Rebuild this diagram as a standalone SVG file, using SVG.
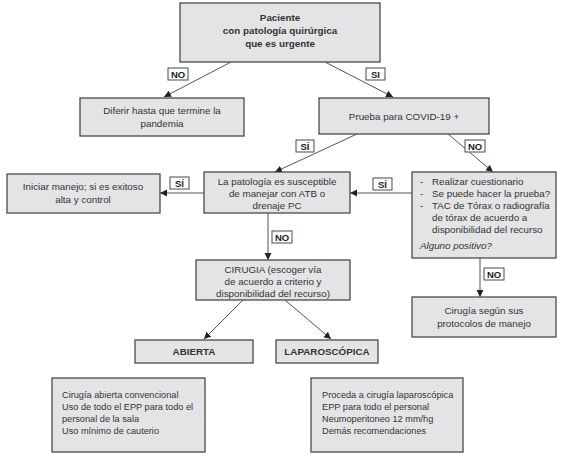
<svg xmlns="http://www.w3.org/2000/svg" width="567" height="456" viewBox="0 0 567 456">
<style>
.box{fill:#e4e4e6;stroke:#4a4a4a;stroke-width:1.3}
.lab{fill:#ffffff;stroke:#4a4a4a;stroke-width:1}
.t{font-family:"Liberation Sans",Arial,sans-serif;font-size:9.8px;fill:#333}
.s{font-size:9.2px}
.c{text-anchor:middle}
.b{font-weight:bold}
.lt{font-family:"Liberation Sans",Arial,sans-serif;font-size:9.5px;font-weight:bold;fill:#222;text-anchor:middle}
.conn line{stroke:#555;stroke-width:1;marker-end:url(#ah)}
</style>
<defs>
<marker id="ah" markerWidth="8" markerHeight="8" refX="7" refY="4" orient="auto" markerUnits="userSpaceOnUse">
<path d="M0,0.5 L7,4 L0,7.5 Z" fill="#222"/>
</marker>
</defs>
<rect width="567" height="456" fill="#ffffff"/>
<g class="conn">
<line x1="231" y1="62" x2="164" y2="97"/>
<line x1="325" y1="62" x2="393" y2="97"/>
<line x1="357" y1="134" x2="275" y2="172"/>
<line x1="448" y1="134" x2="493" y2="172"/>
<line x1="204" y1="193" x2="160" y2="193"/>
<line x1="412" y1="193" x2="350" y2="193"/>
<line x1="268" y1="213" x2="268" y2="260"/>
<line x1="480" y1="258" x2="480" y2="297"/>
<line x1="243" y1="300" x2="204" y2="339"/>
<line x1="285" y1="300" x2="331" y2="339"/>
</g>
<g id="labels">
<rect class="lab" x="168" y="68" width="20" height="12"/><text class="lt" x="178" y="77.5">NO</text>
<rect class="lab" x="366" y="68" width="19" height="12"/><text class="lt" x="375.5" y="77.5">SI</text>
<rect class="lab" x="296" y="140" width="18" height="12"/><text class="lt" x="305" y="149.5">SÍ</text>
<rect class="lab" x="465" y="140" width="20" height="12"/><text class="lt" x="475" y="149.5">NO</text>
<rect class="lab" x="170" y="177" width="19" height="12"/><text class="lt" x="179.5" y="186.5">SÍ</text>
<rect class="lab" x="373" y="178" width="19" height="12"/><text class="lt" x="382.5" y="187.5">SÍ</text>
<rect class="lab" x="272" y="231" width="20" height="12"/><text class="lt" x="282" y="240.5">NO</text>
<rect class="lab" x="484" y="268" width="20" height="12"/><text class="lt" x="494" y="277.5">NO</text>
</g>
<g id="n-paciente">
<rect class="box" x="180" y="3" width="200" height="59"/>
<text class="t c b" x="280" y="21">Paciente</text>
<text class="t c b" x="280" y="34">con patología quirúrgica</text>
<text class="t c b" x="280" y="47">que es urgente</text>
</g>
<g id="n-diferir">
<rect class="box" x="80" y="98" width="164" height="38"/>
<text class="t c" x="162" y="114">Diferir hasta que termine la</text>
<text class="t c" x="162" y="127">pandemia</text>
</g>
<g id="n-prueba">
<rect class="box" x="319" y="98" width="170" height="36"/>
<text class="t c" x="404" y="120">Prueba para COVID-19 +</text>
</g>
<g id="n-iniciar">
<rect class="box" x="7" y="174" width="153" height="39"/>
<text class="t c" x="83" y="190">Iniciar manejo; si es exitoso</text>
<text class="t c" x="83" y="203">alta y control</text>
</g>
<g id="n-patologia">
<rect class="box" x="204" y="172" width="146" height="41"/>
<text class="t c" x="277" y="185">La patología es susceptible</text>
<text class="t c" x="277" y="197">de manejar con ATB o</text>
<text class="t c" x="277" y="209">drenaje PC</text>
</g>
<g id="n-realizar">
<rect class="box" x="412" y="172" width="144" height="86"/>
<text class="t" x="420" y="185">-</text><text class="t" x="432" y="185">Realizar cuestionario</text>
<text class="t" x="420" y="197">-</text><text class="t" x="432" y="197">Se puede hacer la prueba?</text>
<text class="t" x="420" y="209">-</text><text class="t" x="432" y="209">TAC de Tórax o radiografía</text>
<text class="t" x="432" y="221">de tórax de acuerdo a</text>
<text class="t" x="432" y="233">disponibilidad del recurso</text>
<text class="t" x="420" y="249" font-style="italic">Alguno positivo?</text>
</g>
<g id="n-cirugia">
<rect class="box" x="196" y="260" width="154" height="40"/>
<text class="t c" x="273" y="273">CIRUGIA (escoger vía</text>
<text class="t c" x="273" y="285">de acuerdo a criterio y</text>
<text class="t c" x="273" y="297">disponibilidad del recurso)</text>
</g>
<g id="n-segun">
<rect class="box" x="412" y="297" width="144" height="40"/>
<text class="t c" x="484" y="314">Cirugía según sus</text>
<text class="t c" x="484" y="327">protocolos de manejo</text>
</g>
<g id="n-abierta">
<rect class="box" x="135" y="340" width="118" height="23"/>
<text class="t c b" x="194" y="355">ABIERTA</text>
</g>
<g id="n-laparo">
<rect class="box" x="276" y="340" width="102" height="23"/>
<text class="t c b" x="327" y="355">LAPAROSCÓPICA</text>
</g>
<g id="n-abierta-det">
<rect class="box" x="52" y="378" width="153" height="74"/>
<text class="t s" x="62" y="398">Cirugía abierta convencional</text>
<text class="t s" x="62" y="410">Uso de todo el EPP para todo el</text>
<text class="t s" x="62" y="422">personal de la sala</text>
<text class="t s" x="62" y="434">Uso mínimo de cauterio</text>
</g>
<g id="n-laparo-det">
<rect class="box" x="311" y="378" width="152" height="74"/>
<text class="t s" x="322" y="398">Proceda a cirugía laparoscópica</text>
<text class="t s" x="322" y="410">EPP para todo el personal</text>
<text class="t s" x="322" y="422">Neumoperitoneo 12 mm/hg</text>
<text class="t s" x="322" y="434">Demás recomendaciones</text>
</g>
</svg>
